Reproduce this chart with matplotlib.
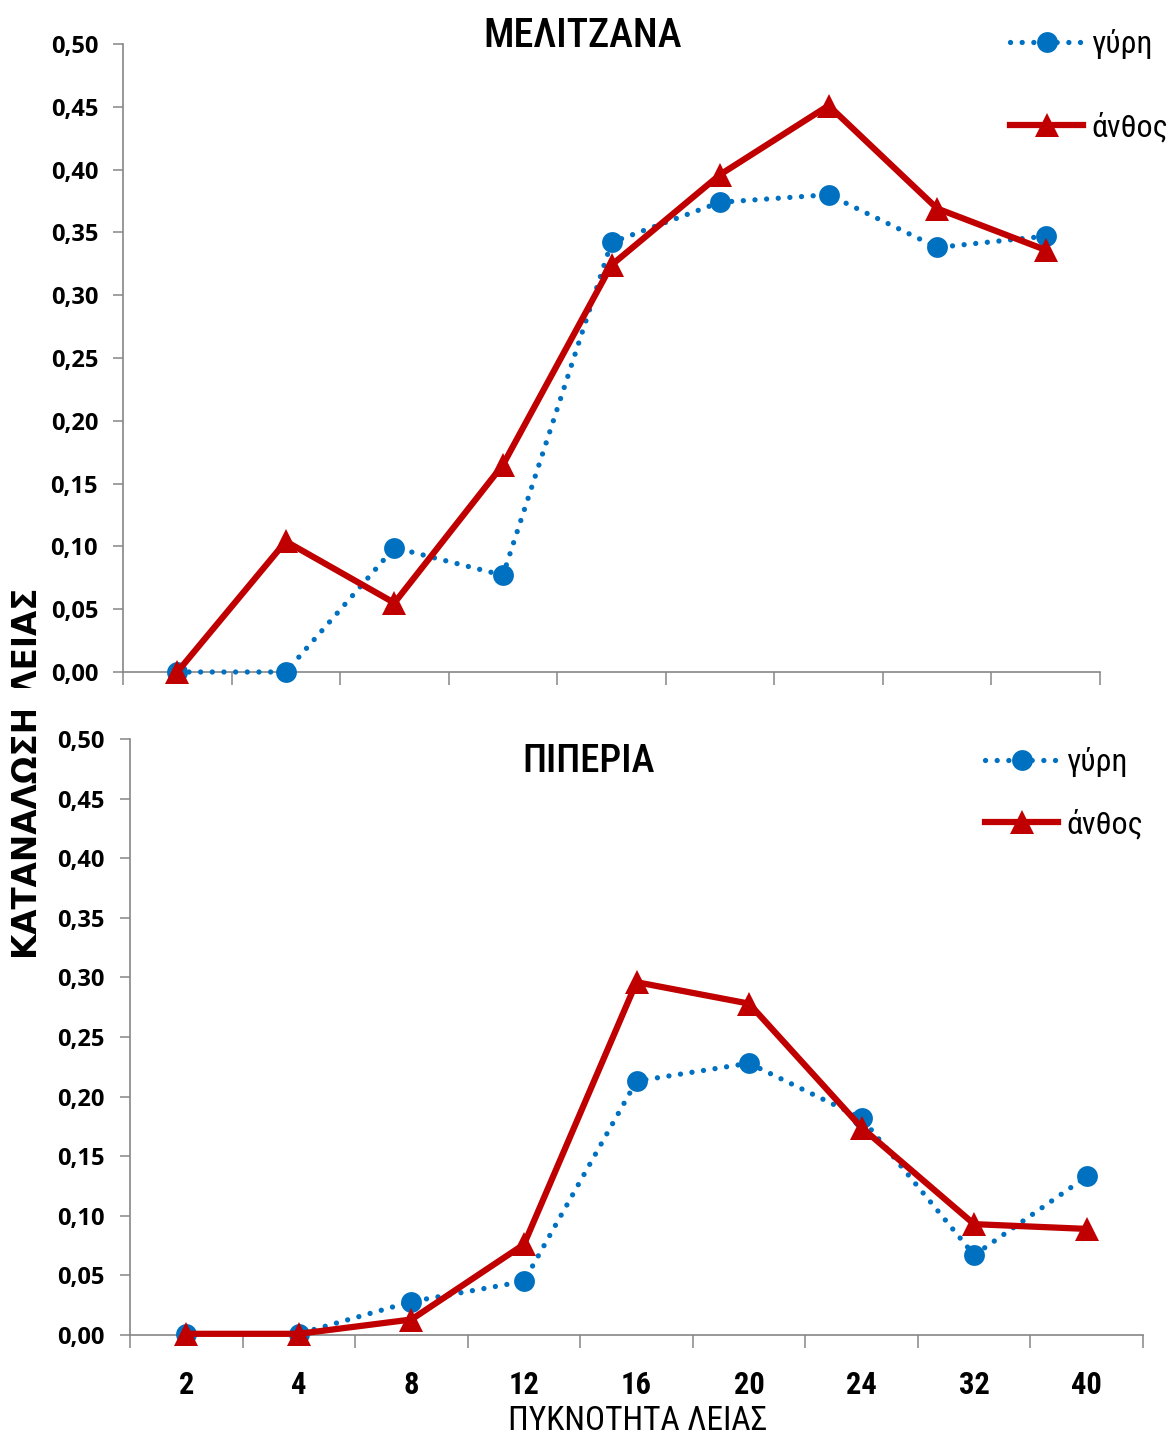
import numpy as np
import matplotlib
matplotlib.use("Agg")
import matplotlib.pyplot as plt
from matplotlib.patches import Rectangle

# Prey density categories and consumption values
density_labels = ["2", "4", "8", "12", "16", "20", "24", "32", "40"]
series_names = ["γύρη", "άνθος"]

eggplant_pollen = [0.000, 0.000, 0.099, 0.077, 0.342, 0.374, 0.380, 0.338, 0.347]
eggplant_flower = [0.000, 0.104, 0.055, 0.165, 0.324, 0.396, 0.451, 0.369, 0.336]

pepper_pollen = [0.001, 0.001, 0.028, 0.045, 0.213, 0.228, 0.182, 0.067, 0.133]
pepper_flower = [0.001, 0.001, 0.013, 0.076, 0.296, 0.278, 0.174, 0.093, 0.089]

y_ticks = [0.00, 0.05, 0.10, 0.15, 0.20, 0.25, 0.30, 0.35, 0.40, 0.45, 0.50]

W, H = 1170, 1436
fig = plt.figure(figsize=(W / 100, H / 100), dpi=100)

NARROW = ["Roboto Condensed", "Roboto", "DejaVu Sans"]
TICKS = ["Open Sans", "DejaVu Sans"]
WIDE = ["DejaVu Sans"]
BLUE = "#0070C0"
RED = "#C00000"
GRID = "#868686"


def px_axes(left, top, right, bottom):
    return fig.add_axes([left / W, 1 - bottom / H, (right - left) / W, (bottom - top) / H])


def style_axes(ax, show_xlabels):
    n = len(density_labels)
    x = np.arange(n)
    ax.set_xlim(-0.5, n - 0.5)
    ax.set_ylim(0, 0.5)
    for s in ("top", "right"):
        ax.spines[s].set_visible(False)
    for s in ("left", "bottom"):
        ax.spines[s].set_color(GRID)
        ax.spines[s].set_linewidth(1.2)
    ax.set_xticks(np.arange(-0.5, n, 1.0))
    ax.set_xticklabels([])
    ax.tick_params(axis="x", which="major", direction="out", length=9, width=1.1, color=GRID)
    if show_xlabels:
        ax.set_xticks(x, minor=True)
        ax.set_xticklabels(density_labels, minor=True, fontsize=22, fontweight="bold",
                           family=NARROW)
        ax.tick_params(axis="x", which="minor", length=0, pad=25)
    ax.set_yticks(y_ticks)
    ax.set_yticklabels([f"{v:.2f}".replace(".", ",") for v in y_ticks],
                       fontsize=17, fontweight="bold", family=TICKS)
    ax.tick_params(axis="y", direction="out", length=7, width=1.1, color=GRID, pad=11)
    return x


def draw_series(ax, x, pollen, flower):
    ax.plot(x, pollen, color=BLUE, linewidth=3.8, linestyle=(0, (0.01, 2.2)),
            dash_capstyle="round", marker="o", markersize=15, markeredgewidth=0,
            label=series_names[0], clip_on=False, zorder=3)
    ax.plot(x, flower, color=RED, linewidth=4.5, linestyle="-",
            marker="^", markersize=17, markeredgewidth=0,
            label=series_names[1], clip_on=False, zorder=4)


def add_legend(ax, x_px, y_px, spacing):
    ax.legend(loc="center left", bbox_to_anchor=(x_px / W, 1 - y_px / H),
              bbox_transform=fig.transFigure, frameon=False, numpoints=1,
              prop={"family": NARROW, "size": 23}, handlelength=2.3,
              handletextpad=0.25, labelspacing=spacing, borderpad=0, borderaxespad=0)


# Upper panel: eggplant
ax1 = px_axes(123, 44, 1100, 672)
x1 = style_axes(ax1, show_xlabels=False)
draw_series(ax1, x1, eggplant_pollen, eggplant_flower)
ax1.text(0.47, 1.012, "ΜΕΛΙΤΖΑΝΑ", transform=ax1.transAxes, ha="center", va="center",
         fontsize=29, fontweight="medium", family=NARROW)
add_legend(ax1, 1010, 86, 1.65)

# Lower panel: pepper
ax2 = px_axes(130, 739, 1143, 1335)
x2 = style_axes(ax2, show_xlabels=True)
draw_series(ax2, x2, pepper_pollen, pepper_flower)
ax2.text(0.453, 0.962, "ΠΙΠΕΡΙΑ", transform=ax2.transAxes, ha="center", va="center",
         fontsize=28, fontweight="medium", family=NARROW)
add_legend(ax2, 985, 793, 1.0)

# Shared axis titles
fig.text(28 / W, 1 - 773.5 / H, "ΚΑΤΑΝΑΛΩΣΗ ΛΕΙΑΣ", rotation=90, ha="center", va="center",
         fontsize=23.5, fontweight="bold", family=WIDE)
fig.patches.append(Rectangle((0, 1 - 711 / H), 60 / W, 23 / H, transform=fig.transFigure,
                             facecolor="white", edgecolor="none", zorder=5))
fig.text(638 / W, 1 - 1405 / H, "ΠΥΚΝΟΤΗΤΑ ΛΕΙΑΣ", ha="center", va="top",
         fontsize=24, family=NARROW)

fig.savefig("out.png", dpi=100, facecolor="white")
